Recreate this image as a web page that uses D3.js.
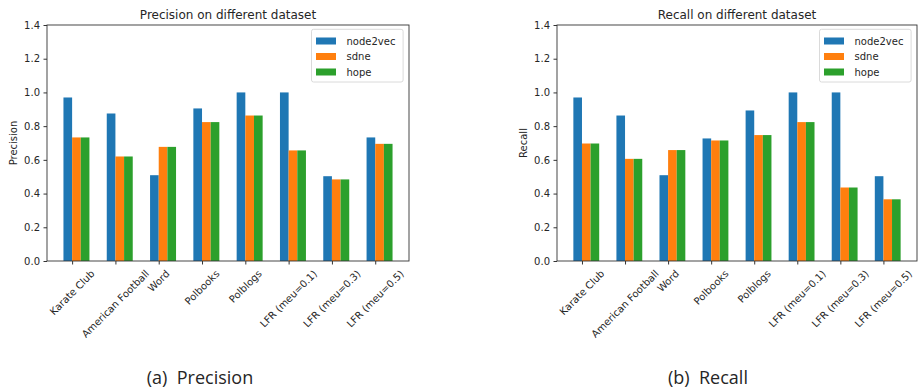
<!DOCTYPE html>
<html lang="en">
<head>
<meta charset="UTF-8">
<script src="https://d3js.org/d3.v7.min.js"></script>
<title>Precision and Recall</title>
<style>
  body { margin: 0; background: #fff; }
  text { font-family: "DejaVu Sans", sans-serif; fill: #262626; }
</style>
</head>
<body>
<svg id="fig" width="920" height="389"></svg>
<script>
  const datasets = ["Karate Club", "American Football", "Word", "Polbooks", "Polblogs",
                    "LFR (meu=0.1)", "LFR (meu=0.3)", "LFR (meu=0.5)"];
  const methods = ["node2vec", "sdne", "hope"];
  const colors = ["#1f77b4", "#ff7f0e", "#2ca02c"];
  const yTicks = [0, 0.2, 0.4, 0.6, 0.8, 1.0, 1.2, 1.4];

  // precision per method
  const precNode2vec = [0.970, 0.875, 0.509, 0.905, 1.000, 1.000, 0.503, 0.733];
  const precSdne     = [0.733, 0.620, 0.677, 0.824, 0.863, 0.656, 0.484, 0.695];
  const precHope     = [0.733, 0.620, 0.677, 0.824, 0.863, 0.656, 0.484, 0.695];

  // recall per method
  const recNode2vec = [0.970, 0.863, 0.509, 0.727, 0.893, 1.000, 1.000, 0.503];
  const recSdne     = [0.697, 0.606, 0.658, 0.715, 0.747, 0.824, 0.436, 0.366];
  const recHope     = [0.697, 0.606, 0.658, 0.715, 0.747, 0.824, 0.436, 0.366];

  const svg = d3.select("#fig");
  const svgRect = svg.node().getBoundingClientRect();

  const panels = [
    { x0: 47, x1: 409, title: "Precision on different dataset", ylabel: "Precision",
      series: [precNode2vec, precSdne, precHope], caption: "(a)\u00a0 Precision", capX: 200 },
    { x0: 557, x1: 917, title: "Recall on different dataset", ylabel: "Recall",
      series: [recNode2vec, recSdne, recHope], caption: "(b)\u00a0 Recall", capX: 708 }
  ];
  const plotTop = 25, plotBottom = 261, barW = 0.2;

  panels.forEach(p => {
    const x = d3.scaleLinear().domain([-0.58, 7.78]).range([p.x0, p.x1]);
    const y = d3.scaleLinear().domain([0, 1.4]).range([plotBottom, plotTop]);
    const g = svg.append("g");

    // bars
    p.series.forEach((vals, s) => {
      g.selectAll(null).data(vals).join("rect")
        .attr("x", (d, i) => x(i + (s - 1) * barW))
        .attr("width", x(barW) - x(0))
        .attr("y", d => y(d))
        .attr("height", d => y(0) - y(d))
        .attr("fill", colors[s]);
    });

    // y axis
    const yAxis = g.append("g").attr("transform", `translate(${p.x0},0)`)
      .call(d3.axisLeft(y).tickValues(yTicks).tickFormat(d3.format(".1f")).tickSize(3.5).tickPadding(3.5));
    yAxis.select(".domain").remove();
    yAxis.selectAll("text").style("font-size", "10px").attr("fill", "#262626");
    yAxis.selectAll("line").attr("stroke", "#333");

    // x axis ticks
    const xAxis = g.append("g").attr("transform", `translate(0,${plotBottom})`)
      .call(d3.axisBottom(x).tickValues(d3.range(datasets.length)).tickFormat("").tickSize(3.5));
    xAxis.select(".domain").remove();
    xAxis.selectAll("line").attr("stroke", "#333");

    // rotated tick labels, bbox centred on tick
    datasets.forEach((name, i) => {
      const lg = g.append("g");
      const t = lg.append("text").text(name)
        .attr("text-anchor", "end").attr("transform", "rotate(-45)")
        .style("font-size", "10px");
      const r = t.node().getBoundingClientRect();
      const cx = r.left - svgRect.left + r.width / 2;
      const ty = r.top - svgRect.top;
      lg.attr("transform", `translate(${x(i) - cx},${plotBottom + 7 - ty})`);
    });

    // frame
    g.append("rect").attr("x", p.x0).attr("y", plotTop)
      .attr("width", p.x1 - p.x0).attr("height", plotBottom - plotTop)
      .attr("fill", "none").attr("stroke", "#333").attr("stroke-width", 0.9);

    // title
    g.append("text").attr("x", (p.x0 + p.x1) / 2).attr("y", plotTop - 6)
      .attr("text-anchor", "middle").style("font-size", "12px").text(p.title);

    // y label
    g.append("text")
      .attr("transform", `translate(${p.x0 - 30},${(plotTop + plotBottom) / 2}) rotate(-90)`)
      .attr("text-anchor", "middle").style("font-size", "10px").text(p.ylabel);

    // legend
    const lx = p.x1 - 97.5, ly = 29.3;
    const leg = g.append("g");
    leg.append("rect").attr("x", lx).attr("y", ly).attr("width", 91.6).attr("height", 52.7)
      .attr("rx", 2).attr("fill", "#fff").attr("fill-opacity", 0.8)
      .attr("stroke", "#d0d0d0").attr("stroke-width", 0.8);
    methods.forEach((m, s) => {
      const cy = 41 + s * 15.5;
      leg.append("rect").attr("x", lx + 4.5).attr("y", cy - 3.5)
        .attr("width", 20).attr("height", 7).attr("fill", colors[s]);
      leg.append("text").attr("x", lx + 35).attr("y", cy + 3.6)
        .style("font-size", "10px").text(m);
    });

    // caption
    svg.append("text").attr("x", p.capX).attr("y", 384)
      .attr("text-anchor", "middle")
      .style("font-family", "'Open Sans', sans-serif").style("font-size", "18px")
      .attr("fill", "#111").text(p.caption);
  });
</script>
</body>
</html>
